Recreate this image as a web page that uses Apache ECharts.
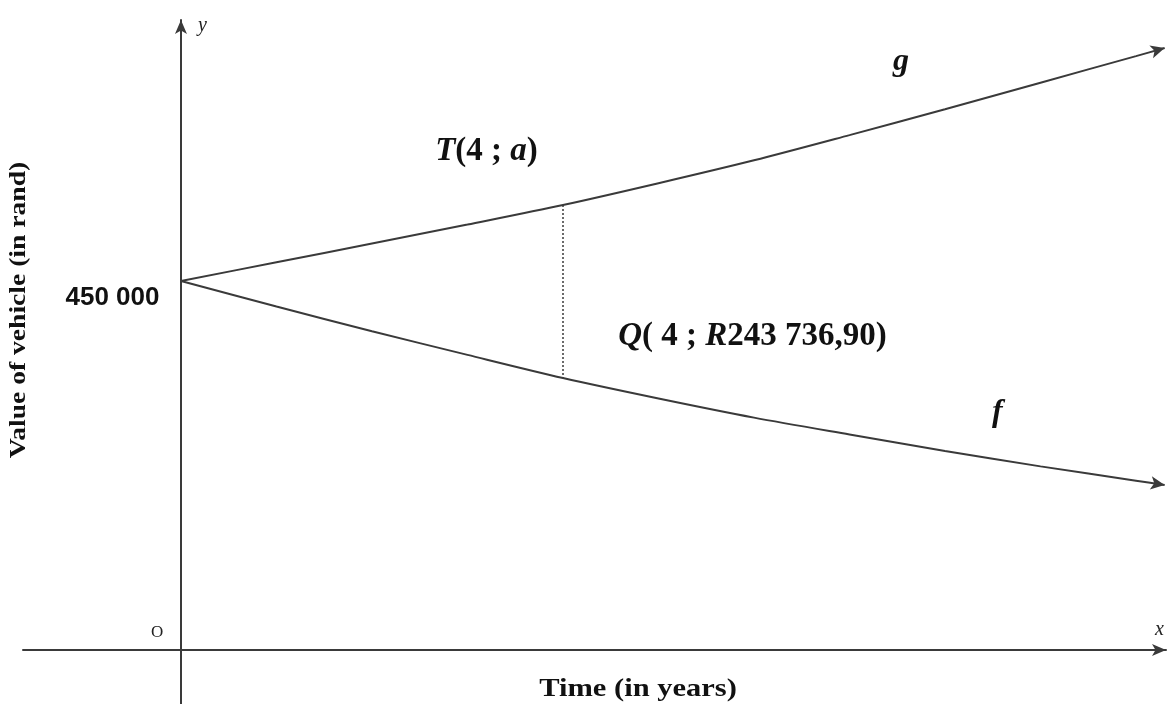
<!DOCTYPE html>
<html>
<head>
<meta charset="utf-8">
<title>Value of vehicle over time</title>
<script src="https://cdn.jsdelivr.net/npm/echarts@6/dist/echarts.min.js"></script>
<style>
  html, body { margin: 0; padding: 0; background: #ffffff; }
  #chart { width: 1172px; height: 704px; }
</style>
</head>
<body>
<div id="chart"></div>
<script>
// Time in years (last entry is where the curves stop at the right edge)
const years = [0, 1, 2, 3, 4, 5, 6, 7, 8, 9, 10, 10.3];
// g: appreciating value (rand)
const gValues = [450000, 489800, 529700, 570100, 611600, 658000, 706700, 760200, 815100, 871700, 928200, 945500];
// f: depreciating value (rand); f(4) = R243 736,90
const fValues = [450000, 395600, 343300, 292900, 243736.9, 200200, 159500, 123600, 88700, 55800, 25400, 16200];
// Marked year for T and Q
const markYear = 4;
// Value labelled on the y-axis (starting value of both curves)
const yTickValues = [450000];

const LINE = '#3a3a3a';
const SERIF = '"Liberation Serif", "DejaVu Serif", serif';

function fmtRand(v, decimals) {
  const s = v.toFixed(decimals);
  const parts = s.split('.');
  const intPart = parts[0].replace(/\B(?=(\d{3})+(?!\d))/g, ' ');
  return parts.length > 1 ? intPart + ',' + parts[1] : intPart;
}

function curveData(values, arrowRotate) {
  return years.map((x, i) => {
    const last = i === years.length - 1;
    if (!last) return [x, values[i]];
    return {
      value: [x, values[i]],
      symbol: 'arrow',
      symbolSize: [10, 14],
      symbolRotate: arrowRotate,
      itemStyle: { color: LINE }
    };
  });
}

const iMark = years.indexOf(markYear);
const gMark = gValues[iMark];
const fMark = fValues[iMark];

const labelRich = {
  i: { fontFamily: SERIF, fontStyle: 'italic', fontWeight: 'bold', fontSize: 33, color: '#111' },
  n: { fontFamily: SERIF, fontWeight: 'bold', fontSize: 33, color: '#111' }
};

const chart = echarts.init(document.getElementById('chart'), null, { renderer: 'canvas' });

chart.setOption({
  backgroundColor: '#ffffff',
  animation: false,
  grid: { left: 23, right: 6, top: 20, bottom: 0, containLabel: false, outerBoundsMode: 'none' },
  xAxis: {
    type: 'value',
    min: -1.654,
    max: 10.314,
    axisLine: {
      show: true,
      onZero: true,
      onZeroAxisIndex: 1,
      symbol: ['none', 'arrow'],
      symbolSize: [9, 14],
      lineStyle: { color: LINE, width: 2 }
    },
    axisTick: { show: false },
    axisLabel: { show: false },
    splitLine: { show: false }
  },
  yAxis: [
    {
      type: 'value',
      min: -449467,
      max: 1004990,
      axisLine: {
        show: true,
        onZero: true,
        symbol: ['none', 'arrow'],
        symbolSize: [9, 14],
        lineStyle: { color: LINE, width: 2 }
      },
      axisTick: { show: false },
      axisLabel: { show: false },
      splitLine: { show: false }
    },
    {
      // baseline axis: its zero sets where the time axis crosses
      type: 'value',
      min: -54,
      max: 630,
      show: false
    }
  ],
  series: [
    {
      name: 'g',
      type: 'line',
      smooth: 0.3,
      symbol: 'none',
      showSymbol: true,
      lineStyle: { color: LINE, width: 2 },
      data: curveData(gValues, -74),
      markLine: {
        silent: true,
        symbol: ['none', 'none'],
        label: { show: false },
        lineStyle: { color: LINE, width: 1.5, type: [2, 2] },
        data: [[{ coord: [markYear, gMark] }, { coord: [markYear, fMark] }]]
      },
      z: 3
    },
    {
      name: 'f',
      type: 'line',
      smooth: 0.3,
      symbol: 'none',
      showSymbol: true,
      lineStyle: { color: LINE, width: 2 },
      data: curveData(fValues, -99),
      z: 3
    },
    {
      name: 'points',
      type: 'scatter',
      symbolSize: 1,
      itemStyle: { color: 'rgba(0,0,0,0)' },
      silent: true,
      labelLayout: { hideOverlap: false },
      data: [
        {
          value: [0, yTickValues[0]],
          label: {
            show: true,
            position: [-21, 17],
            align: 'right',
            verticalAlign: 'middle',
            formatter: (p) => fmtRand(p.value[1], 0),
            color: '#111',
            opacity: 1,
            fontFamily: '"Liberation Sans", Arial, sans-serif',
            fontWeight: 'bold',
            fontSize: 26
          }
        },
        {
          value: [markYear, gMark],
          label: {
            show: true,
            position: [-76, -53],
            align: 'center',
            verticalAlign: 'middle',
            color: '#111',
            opacity: 1,
            formatter: '{i|T}{n|(' + markYear + ' ; }{i|a}{n|)}',
            rich: labelRich
          }
        },
        {
          value: [markYear, fMark],
          label: {
            show: true,
            position: [190, -41],
            align: 'center',
            verticalAlign: 'middle',
            color: '#111',
            opacity: 1,
            formatter: '{i|Q}{n|( ' + markYear + ' ; }{i|R}{n|' + fmtRand(fMark, 2) + ')}',
            rich: labelRich
          }
        }
      ],
      z: 4
    }
  ],
  graphic: [
    { type: 'text', left: 198, top: 16, style: { text: 'y', font: 'italic 20px ' + SERIF, fill: '#222' } },
    { type: 'text', left: 1155, top: 620, style: { text: 'x', font: 'italic 20px ' + SERIF, fill: '#222' } },
    { type: 'text', left: 151, top: 624, style: { text: 'O', font: '17px ' + SERIF, fill: '#222' } },
    { type: 'text', left: 893, top: 46, style: { text: 'g', font: 'italic bold 32px ' + SERIF, fill: '#111' } },
    { type: 'text', left: 992, top: 397, style: { text: 'f', font: 'italic bold 32px ' + SERIF, fill: '#111' } },
    {
      type: 'text', x: 638, y: 690, scaleX: 1.22,
      style: { text: 'Time (in years)', font: 'bold 25px ' + SERIF, fill: '#111', align: 'center', verticalAlign: 'middle' }
    },
    {
      type: 'text', x: 19, y: 310, rotation: Math.PI / 2, scaleX: 1.15,
      style: { text: 'Value of vehicle (in rand)', font: 'bold 24px ' + SERIF, fill: '#111', align: 'center', verticalAlign: 'middle' }
    }
  ]
});
</script>
</body>
</html>
